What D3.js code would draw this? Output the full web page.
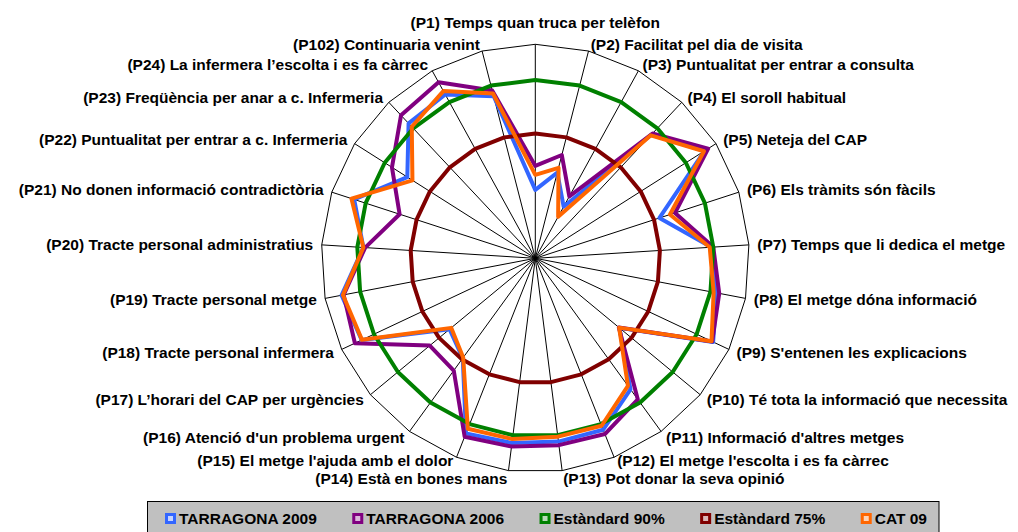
<!DOCTYPE html>
<html><head><meta charset="utf-8">
<script src="https://cdn.jsdelivr.net/npm/d3@7"></script>
<style>
body{margin:0;background:#fff}
svg{display:block}
text{font-family:"Liberation Sans",Arial,sans-serif;font-weight:bold;fill:#000}
</style>
</head><body>
<svg id="chart" width="1018" height="532"></svg>
<script>
const categories = [
  "(P1) Temps quan truca per telèfon",
  "(P2) Facilitat pel dia de visita",
  "(P3) Puntualitat per entrar a consulta",
  "(P4) El soroll habitual",
  "(P5) Neteja del CAP",
  "(P6) Els tràmits són fàcils",
  "(P7) Temps que li dedica el metge",
  "(P8) El metge dóna informació",
  "(P9) S'entenen les explicacions",
  "(P10) Té tota la informació que necessita",
  "(P11) Informació d'altres metges",
  "(P12) El metge l'escolta i es fa càrrec",
  "(P13) Pot donar la seva opinió",
  "(P14) Està en bones mans",
  "(P15) El metge l'ajuda amb el dolor",
  "(P16) Atenció d'un problema urgent",
  "(P17) L’horari del CAP per urgències",
  "(P18) Tracte personal infermera",
  "(P19) Tracte personal metge",
  "(P20) Tracte personal administratius",
  "(P21) No donen informació contradictòria",
  "(P22) Puntualitat per entrar a c. Infermeria",
  "(P23) Freqüència per anar a c. Infermeria",
  "(P24) La infermera l’escolta i es fa càrrec",
  "(P102) Continuaria venint"
];
const tarragona2009 = [59.2, 64.8, 56.5, 87.5, 96.2, 76.6, 89.5, 91.8, 95.1, 70.6, 85.4, 91.7, 91.8, 92.2, 92.8, 74.6, 71.2, 93.8, 95.3, 88.3, 93.4, 82.5, 91.9, 92.4, 86.9];
const tarragona2006 = [65.9, 69.9, 59.8, 88.0, 97.4, 81.2, 90.0, 92.5, 94.8, 70.4, 88.9, 93.0, 92.8, 93.2, 93.8, 78.9, 78.4, 95.9, 94.7, 87.8, 80.0, 87.6, 95.0, 96.3, 88.6];
const estandard90 = [90, 90, 90, 90, 90, 90, 90, 90, 90, 90, 90, 90, 90, 90, 90, 90, 90, 90, 90, 90, 90, 90, 90, 90, 90];
const estandard75 = [75, 75, 75, 75, 75, 75, 75, 75, 75, 75, 75, 75, 75, 75, 75, 75, 75, 75, 75, 75, 75, 75, 75, 75, 75];
const cat09 = [63.4, 66.2, 53.3, 87.3, 96.0, 79.7, 89.0, 90.9, 94.6, 70.5, 84.2, 90.5, 90.4, 91.1, 91.4, 74.4, 70.6, 93.7, 94.9, 88.3, 94.2, 80.8, 90.6, 93.5, 87.7];
const axisDomain = [40, 100];

const seriesNames = ["TARRAGONA 2009", "TARRAGONA 2006", "Estàndard 90%", "Estàndard 75%", "CAT 09"];
const seriesValues = [tarragona2009, tarragona2006, estandard90, estandard75, cat09];
const seriesColors = ["#3366FF", "#800080", "#008000", "#800000", "#FF6600"];

const svg = d3.select("#chart");
svg.append("rect").attr("width",1018).attr("height",532).attr("fill","#fff");

const cx = 535.3, cy = 258.3, R = 214;
const n = categories.length;
const rScale = d3.scaleLinear().domain(axisDomain).range([0, R]);
const angle = d3.scaleLinear().domain([0, n]).range([0, 2*Math.PI]);

const g = svg.append("g").attr("transform", `translate(${cx},${cy})`);

// spokes
g.selectAll("line.spoke").data(categories).join("line")
  .attr("class","spoke")
  .attr("x1",0).attr("y1",0)
  .attr("x2",(d,i)=>rScale(axisDomain[1])*Math.sin(angle(i)))
  .attr("y2",(d,i)=>-rScale(axisDomain[1])*Math.cos(angle(i)))
  .attr("stroke","#000").attr("stroke-width",1);

// outer polygon
const outer = d3.lineRadial()
  .angle((d,i)=>angle(i))
  .radius(()=>rScale(axisDomain[1]))
  .curve(d3.curveLinearClosed);
g.append("path").attr("d", outer(categories)).attr("fill","none").attr("stroke","#000").attr("stroke-width",1);

// series
const line = d3.lineRadial()
  .angle((d,i)=>angle(i))
  .radius(d=>rScale(d))
  .curve(d3.curveLinearClosed);
g.selectAll("path.series").data(seriesValues).join("path")
  .attr("class","series")
  .attr("d", d=>line(d))
  .attr("fill","none")
  .attr("stroke",(d,i)=>seriesColors[i])
  .attr("stroke-width",4)
  .attr("stroke-linejoin","round");

// category labels
g.selectAll("text.cat").data(categories).join("text")
  .attr("class","cat")
  .style("font-size","15.5px")
  .each(function(d,i){
    const a = angle(i), s = Math.sin(a), c = Math.cos(a);
    const vx = R*s, vy = -R*c;
    const t = d3.select(this);
    if (Math.abs(s) < 0.01) {
      t.attr("x", vx).attr("y", vy - 22).attr("text-anchor","middle");
    } else {
      let yOff = -7*c;
      if (c > -0.97 && c < -0.9) yOff -= 3;
      if (c <= -0.97) yOff += 1;
      t.attr("x", vx + 8.5*s).attr("y", vy + yOff)
       .attr("text-anchor", s > 0 ? "start" : "end");
    }
    t.attr("dy","0.35em").text(d);
  });

// legend
const lg = svg.append("g");
lg.append("rect").attr("x",147.5).attr("y",501.5).attr("width",791.5).attr("height",40)
  .attr("fill","#C0C0C0").attr("stroke","#000").attr("stroke-width",1);
const items = seriesNames.map((name,i)=>{
  const t = lg.append("text").attr("y",519).attr("dy","0.35em")
    .style("font-size","15.5px").text(name);
  return {t, w: t.node().getComputedTextLength(), i};
});
const startX = 165, endX = 927;
const used = d3.sum(items, d=>14 + d.w);
const gap = (endX - startX - used) / (items.length - 1);
let lx = startX;
items.forEach(d=>{
  lg.append("rect").attr("x",lx+1.5).attr("y",514.5).attr("width",8).attr("height",8)
    .attr("fill", d3.interpolateRgb(seriesColors[d.i], "#fff")(0.72))
    .attr("stroke", seriesColors[d.i]).attr("stroke-width",3);
  d.t.attr("x", lx + 14);
  lx += 14 + d.w + gap;
});
</script>
</body></html>
